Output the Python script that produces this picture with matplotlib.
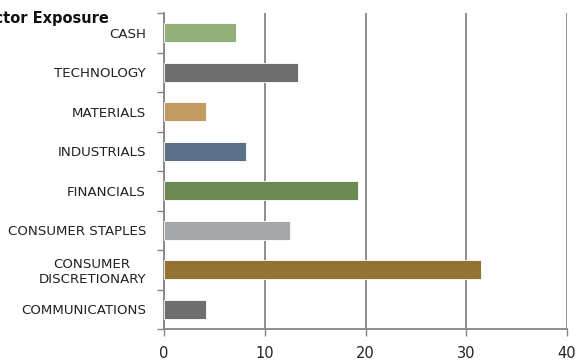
import numpy as np
import matplotlib.pyplot as plt
from matplotlib.ticker import FixedLocator

# datos del grafico (de abajo hacia arriba)
sectores = ['COMMUNICATIONS', 'CONSUMER\nDISCRETIONARY', 'CONSUMER STAPLES', 'FINANCIALS',
            'INDUSTRIALS', 'MATERIALS', 'TECHNOLOGY', 'CASH']
exposicion = [4.2, 31.5, 12.5, 19.3, 8.1, 4.2, 13.3, 7.1]
colores = ['#6E6E6E', '#937331', '#A6A7AA', '#6B8A52', '#5A7188', '#C29B62', '#6E6E6E', '#93AF7A']
ticks_x = [0, 10, 20, 30, 40]

plt.rcParams['font.family'] = ['DejaVu Sans']

fig = plt.figure(figsize=(5.77, 3.61), dpi=100)
ax = fig.add_axes([164/577, 32/361, 403/577, 316/361])

y = np.arange(len(sectores))
ax.barh(y, exposicion, height=0.48, color=colores, edgecolor='white', linewidth=0.6, zorder=3)

ax.set_xlim(0, 40)
ax.set_ylim(-0.5, len(sectores) - 0.5)
ax.set_xticks(ticks_x)
ax.set_xticklabels([str(t) for t in ticks_x], fontsize=10.5, color='#222222')
ax.set_yticks(y)
ax.set_yticklabels(sectores, fontsize=9.6, color='#222222', multialignment='center')
ax.yaxis.set_minor_locator(FixedLocator(np.arange(-0.5, len(sectores), 1)))

ax.tick_params(axis='y', which='major', length=0, pad=13)
ax.tick_params(axis='y', which='minor', length=5, color='#868686', width=1)
ax.tick_params(axis='x', length=5, color='#868686', width=1, pad=7)

ax.grid(axis='x', color='#868686', linewidth=1.3, zorder=0)
for lado in ['top', 'right']:
    ax.spines[lado].set_visible(False)
for lado in ['left', 'bottom']:
    ax.spines[lado].set_color('#868686')
    ax.spines[lado].set_linewidth(1.3)

fig.text(109/577, 1 - 18/361, 'Sector Exposure', ha='right', va='center',
         fontsize=10.5, fontweight='bold', color='#111111')

fig.savefig('out.png', dpi=100)
